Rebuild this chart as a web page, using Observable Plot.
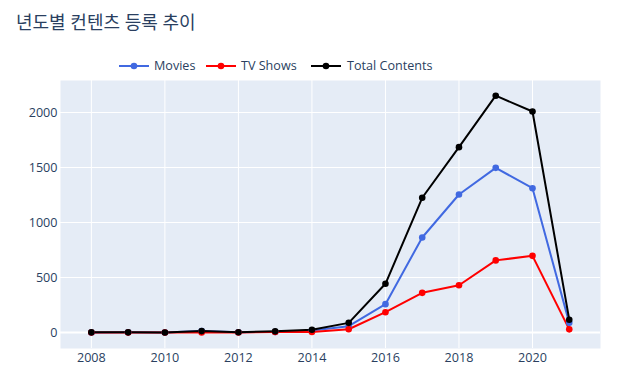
<!DOCTYPE html>
<html><head><meta charset="utf-8">
<script src="https://cdn.jsdelivr.net/npm/d3@7"></script>
<script src="https://cdn.jsdelivr.net/npm/@observablehq/plot@0.6"></script>
<style>
body{margin:0;background:#fff;font-family:"Open Sans","Noto Sans CJK KR",sans-serif;}
#wrap{position:relative;width:627px;height:382px;}
#title{position:absolute;left:16px;top:8px;font-size:18px;color:#2a3f5f;font-family:"Open Sans","Noto Sans CJK KR",sans-serif;white-space:nowrap;}
#legend{position:absolute;left:114px;top:52px;height:28px;width:326px;background:#fff;font-size:12.6px;color:#2a3f5f;}
.sym{position:absolute;top:9px;}
.lab{position:absolute;top:5px;white-space:nowrap;}
#chart{position:absolute;left:0;top:0;}
</style></head>
<body><div id="wrap"><div id="chart"></div><div id="title">년도별 컨텐츠 등록 추이</div><div id="legend"></div></div>
<script>
const years = [2008,2009,2010,2011,2012,2013,2014,2015,2016,2017,2018,2019,2020,2021];
const movies = [1,2,1,13,3,6,19,58,258,864,1255,1497,1312,88];
const tvShows = [1,0,0,0,0,5,6,30,185,361,430,656,697,29];
const totals = [2,2,1,13,3,11,25,88,443,1225,1685,2153,2009,117];
const seriesNames = ["Movies","TV Shows","Total Contents"];
const seriesColors = ["#4169E1","#FF0000","#000000"];
const xTicks = [2008,2010,2012,2014,2016,2018,2020];
const yTicks = [0,500,1000,1500,2000];

const rows = [];
[movies,tvShows,totals].forEach((arr,si)=>arr.forEach((v,i)=>rows.push({year:years[i],value:v,series:seriesNames[si]})));

const plot = Plot.plot({
  width:627, height:382,
  marginLeft:60, marginRight:27, marginTop:80, marginBottom:34,
  x:{domain:[2007.16,2021.85]},
  y:{domain:[-145,2291]},
  color:{domain:seriesNames, range:seriesColors},
  style:{fontFamily:"Open Sans, sans-serif", fontSize:"12.6px", color:"#2a3f5f", background:"transparent"},
  marks:[
    Plot.frame({fill:"#E5ECF6", stroke:null}),
    Plot.ruleX(xTicks,{stroke:"#fff", strokeWidth:1}),
    Plot.ruleY(yTicks.filter(d=>d!==0),{stroke:"#fff", strokeWidth:1}),
    Plot.ruleY([0],{stroke:"#fff", strokeWidth:2}),
    Plot.axisX({ticks:xTicks, tickSize:0, tickPadding:5, tickFormat:d=>String(d), label:null, fill:"#2a3f5f"}),
    Plot.axisY({ticks:yTicks, tickSize:0, tickPadding:3, tickFormat:d=>String(d), label:null, fill:"#2a3f5f"}),
    Plot.line(rows,{x:"year",y:"value",stroke:"series",strokeWidth:2}),
    Plot.dot(rows,{x:"year",y:"value",fill:"series",r:3.3,stroke:null})
  ]
});
document.getElementById("chart").appendChild(plot);

const leg = document.getElementById("legend");
const symX = [5,92,197];
const labX = [40,127,233];
seriesNames.forEach((n,i)=>{
  const s = document.createElement("div"); s.className="sym"; s.style.left=symX[i]+"px";
  s.innerHTML = `<svg width="30" height="10" style="display:block"><line x1="0" y1="5" x2="30" y2="5" stroke="${seriesColors[i]}" stroke-width="2"/><circle cx="15" cy="5" r="3.3" fill="${seriesColors[i]}"/></svg>`;
  leg.appendChild(s);
  const t = document.createElement("div"); t.className="lab"; t.style.left=labX[i]+"px"; t.textContent=n;
  leg.appendChild(t);
});
</script></body></html>
